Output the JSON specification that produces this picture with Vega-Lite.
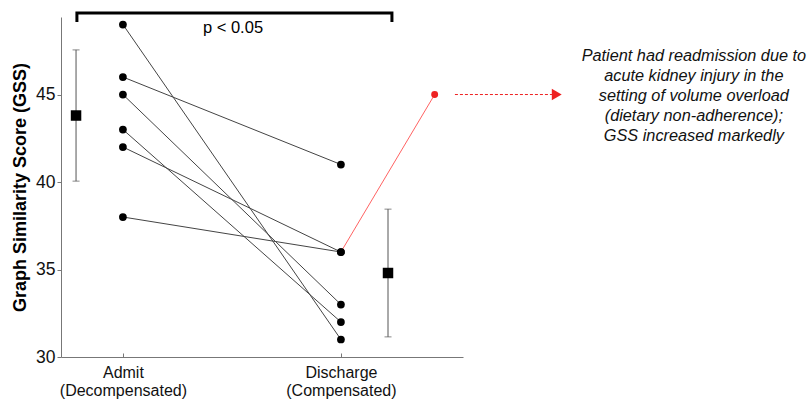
{
  "$schema": "https://vega.github.io/schema/vega-lite/v6.json",
  "autosize": "none",
  "width": 402,
  "height": 340,
  "padding": {"left": 61, "top": 17, "right": 346, "bottom": 42},
  "background": "white",
  "config": {"view": {"stroke": null}, "font": "Liberation Sans"},
  "datasets": {
    "pts": [
      {"pid": "A", "t": 1, "gss": 49}, {"pid": "A", "t": 2, "gss": 31},
      {"pid": "B", "t": 1, "gss": 46}, {"pid": "B", "t": 2, "gss": 41},
      {"pid": "C", "t": 1, "gss": 45}, {"pid": "C", "t": 2, "gss": 33},
      {"pid": "D", "t": 1, "gss": 43}, {"pid": "D", "t": 2, "gss": 32},
      {"pid": "E", "t": 1, "gss": 42}, {"pid": "E", "t": 2, "gss": 36},
      {"pid": "F", "t": 1, "gss": 38}, {"pid": "F", "t": 2, "gss": 36}
    ],
    "means": [
      {"t": 0.785, "mean": 43.8, "lo": 40.05, "hi": 47.55},
      {"t": 2.216, "mean": 34.8, "lo": 31.15, "hi": 38.45}
    ],
    "red": [{"t": 2, "gss": 36}, {"t": 2.43, "gss": 45}],
    "bracket": [
      {"o": 1, "bx": 0.789, "by": 49.14},
      {"o": 2, "bx": 0.789, "by": 49.66},
      {"o": 3, "bx": 2.234, "by": 49.66},
      {"o": 4, "bx": 2.234, "by": 49.14}
    ],
    "arrow": [{"ax": 2.523, "ay": 45}, {"ax": 2.99, "ay": 45}],
    "notes": [
      {"nx": 1.505, "ny": 48.8, "label": "p < 0.05"}
    ],
    "annot": [
      {"nx": 3.619, "ny": 47.2, "label": "Patient had readmission due to\nacute kidney injury in the\nsetting of volume overload\n(dietary non-adherence);\nGSS increased markedly"}
    ]
  },
  "layer": [
    {
      "data": {"name": "pts"},
      "mark": {"type": "line", "color": "#444", "strokeWidth": 1},
      "encoding": {
        "x": {
          "field": "t", "type": "quantitative",
          "scale": {"domain": [0.716, 2.56], "nice": false, "zero": false},
          "axis": {
            "values": [1, 2], "title": null, "grid": false,
            "domainColor": "#777", "tickColor": "#777", "tickSize": -4,
            "labelExpr": "datum.value == 1 ? ['Admit', '(Decompensated)'] : ['Discharge', '(Compensated)']",
            "labelFontSize": 16, "labelColor": "#111", "labelLineHeight": 18, "labelPadding": 11
          }
        },
        "y": {
          "field": "gss", "type": "quantitative",
          "scale": {"domain": [30, 49.43], "nice": false, "zero": false},
          "axis": {
            "values": [30, 35, 40, 45], "title": "Graph Similarity Score (GSS)", "grid": false,
            "domainColor": "#777", "tickColor": "#777", "tickSize": 4,
            "labelFontSize": 17.5, "labelColor": "#111", "labelPadding": 2,
            "titleFontSize": 18, "titleFontWeight": "bold", "titleColor": "#000", "titlePadding": 6
          }
        },
        "detail": {"field": "pid"}
      }
    },
    {
      "data": {"name": "red"},
      "mark": {"type": "line", "color": "#ff5050", "strokeWidth": 0.9},
      "encoding": {
        "x": {"field": "t", "type": "quantitative"},
        "y": {"field": "gss", "type": "quantitative"}
      }
    },
    {
      "data": {"name": "pts"},
      "mark": {"type": "circle", "color": "#000", "size": 60, "opacity": 1},
      "encoding": {
        "x": {"field": "t", "type": "quantitative"},
        "y": {"field": "gss", "type": "quantitative"}
      }
    },
    {
      "data": {"name": "red"},
      "transform": [{"filter": "datum.gss == 45"}],
      "mark": {"type": "circle", "color": "#ee2222", "size": 48, "opacity": 1},
      "encoding": {
        "x": {"field": "t", "type": "quantitative"},
        "y": {"field": "gss", "type": "quantitative"}
      }
    },
    {
      "data": {"name": "means"},
      "mark": {"type": "rule", "color": "#555", "strokeWidth": 1},
      "encoding": {
        "x": {"field": "t", "type": "quantitative"},
        "y": {"field": "lo", "type": "quantitative"},
        "y2": {"field": "hi"}
      }
    },
    {
      "data": {"name": "means"},
      "mark": {"type": "tick", "color": "#555", "thickness": 1, "size": 7, "orient": "horizontal"},
      "encoding": {
        "x": {"field": "t", "type": "quantitative"},
        "y": {"field": "lo", "type": "quantitative"}
      }
    },
    {
      "data": {"name": "means"},
      "mark": {"type": "tick", "color": "#555", "thickness": 1, "size": 7, "orient": "horizontal"},
      "encoding": {
        "x": {"field": "t", "type": "quantitative"},
        "y": {"field": "hi", "type": "quantitative"}
      }
    },
    {
      "data": {"name": "means"},
      "mark": {"type": "square", "color": "#000", "size": 110, "opacity": 1, "filled": true},
      "encoding": {
        "x": {"field": "t", "type": "quantitative"},
        "y": {"field": "mean", "type": "quantitative"}
      }
    },
    {
      "data": {"name": "bracket"},
      "mark": {"type": "line", "color": "#000", "strokeWidth": 3, "clip": false, "strokeJoin": "miter"},
      "encoding": {
        "x": {"field": "bx", "type": "quantitative"},
        "y": {"field": "by", "type": "quantitative"},
        "order": {"field": "o"}
      }
    },
    {
      "data": {"name": "arrow"},
      "mark": {"type": "line", "color": "#ee2222", "strokeWidth": 1, "strokeDash": [3, 2], "clip": false},
      "encoding": {
        "x": {"field": "ax", "type": "quantitative"},
        "y": {"field": "ay", "type": "quantitative"}
      }
    },
    {
      "data": {"name": "arrow"},
      "transform": [{"filter": "datum.ax > 2.9"}],
      "mark": {"type": "point", "shape": "triangle-right", "color": "#ee2222", "filled": true, "opacity": 1, "size": 130, "clip": false},
      "encoding": {
        "x": {"field": "ax", "type": "quantitative"},
        "y": {"field": "ay", "type": "quantitative"}
      }
    },
    {
      "data": {"name": "notes"},
      "mark": {"type": "text", "fontSize": 16.5, "color": "#000", "align": "center", "baseline": "middle", "clip": false},
      "encoding": {
        "x": {"field": "nx", "type": "quantitative"},
        "y": {"field": "ny", "type": "quantitative"},
        "text": {"field": "label"}
      }
    },
    {
      "data": {"name": "annot"},
      "mark": {"type": "text", "fontSize": 16.3, "fontStyle": "italic", "color": "#111", "align": "center", "baseline": "middle", "lineBreak": "\n", "lineHeight": 20, "clip": false},
      "encoding": {
        "x": {"field": "nx", "type": "quantitative"},
        "y": {"field": "ny", "type": "quantitative"},
        "text": {"field": "label"}
      }
    }
  ]
}
